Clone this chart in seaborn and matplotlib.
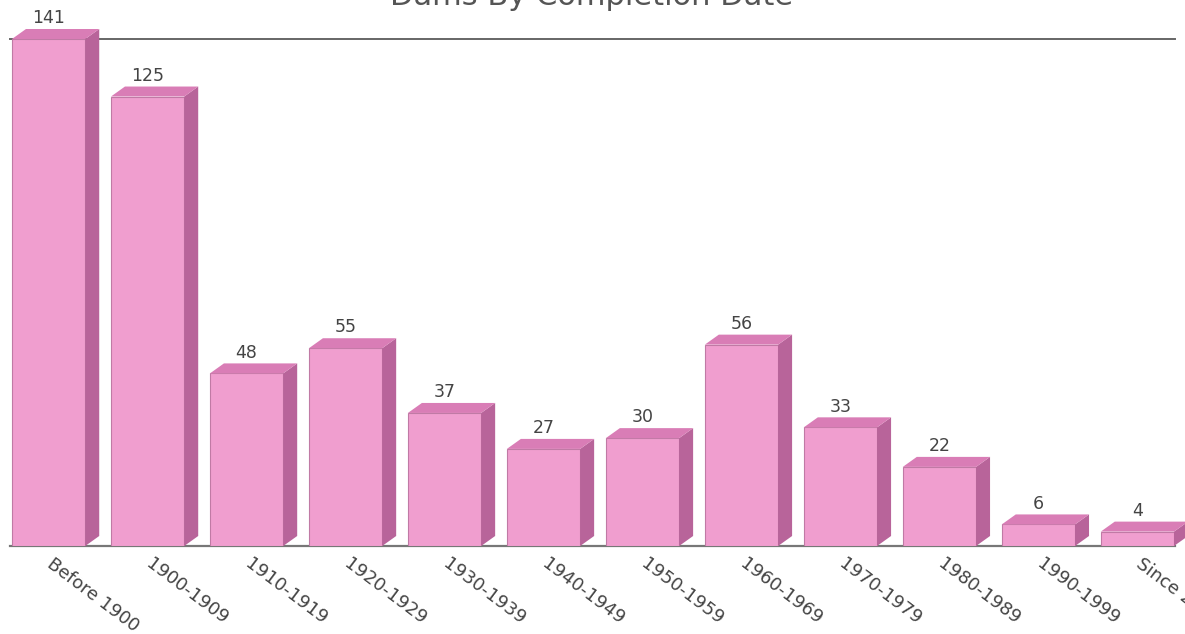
import numpy as np
import pandas as pd
import seaborn as sns
import matplotlib
matplotlib.use("Agg")
import matplotlib.pyplot as plt
import matplotlib.transforms as mtransforms
from matplotlib.patches import Polygon

categories = ["Before 1900", "1900-1909", "1910-1919", "1920-1929", "1930-1939",
              "1940-1949", "1950-1959", "1960-1969", "1970-1979", "1980-1989",
              "1990-1999", "Since 2000"]
counts = [141, 125, 48, 55, 37, 27, 30, 56, 33, 22, 6, 4]
title = "Dams By Completion Date"

sns.set_style("white")
plt.rcParams["font.family"] = ["DejaVu Sans"]

FRONT = "#F09ECF"
TOP = "#D97DB6"
SIDE = "#B8649A"
EDGE = "#C07AA5"
TXT = "#444444"

fig = plt.figure(figsize=(11.85, 6.34), dpi=100)
ax = fig.add_axes([10 / 1185, 88 / 634, 1165 / 1185, 507 / 634])

df = pd.DataFrame({"period": categories, "count": counts})
sns.barplot(data=df, x="period", y="count", color=FRONT, saturation=1,
            width=0.74, edgecolor=EDGE, linewidth=0.8, ax=ax, zorder=3)

ax.set_xlim(-0.39, 11.38)
ax.set_ylim(0, 141)

# depth of the 3D effect in pixels -> data units
fig.canvas.draw()
bbox = ax.get_window_extent()
xr = ax.get_xlim()[1] - ax.get_xlim()[0]
yr = ax.get_ylim()[1] - ax.get_ylim()[0]
dx = 14 * xr / bbox.width
dy = 10 * yr / bbox.height

for p, v in zip(list(ax.patches), counts):
    x0, w, h = p.get_x(), p.get_width(), p.get_height()
    side = Polygon([(x0 + w, 0), (x0 + w + dx, dy), (x0 + w + dx, h + dy), (x0 + w, h)],
                   closed=True, facecolor=SIDE, edgecolor="none", zorder=3, clip_on=False)
    top = Polygon([(x0, h), (x0 + dx, h + dy), (x0 + w + dx, h + dy), (x0 + w, h)],
                  closed=True, facecolor=TOP, edgecolor="none", zorder=3, clip_on=False)
    ax.add_patch(side)
    ax.add_patch(top)
    ax.annotate(str(v), (x0 + w / 2, h), xytext=(0, 15), textcoords="offset points",
                ha="center", va="center", fontsize=12.5, color=TXT, annotation_clip=False)

ax.set_xlabel("")
ax.set_ylabel("")
ax.set_yticks([])
ax.set_xticks(range(len(categories)))
ax.set_xticklabels(categories, rotation=-37, ha="left", rotation_mode="anchor",
                   fontsize=13, color=TXT)
ax.tick_params(axis="x", length=0, pad=6)
shift = mtransforms.ScaledTranslation(6 / 100, 0, fig.dpi_scale_trans)
for lab in ax.get_xticklabels():
    lab.set_transform(lab.get_transform() + shift)

for s in ["left", "right"]:
    ax.spines[s].set_visible(False)
ax.spines["top"].set_color("#666666")
ax.spines["top"].set_linewidth(1.4)
ax.spines["bottom"].set_color("#777777")
ax.spines["bottom"].set_linewidth(1.6)

fig.text(0.499, 1 - 5 / 634, title, ha="center", va="baseline",
         fontsize=22, color="#555555")

fig.savefig("out.png", dpi=100)
